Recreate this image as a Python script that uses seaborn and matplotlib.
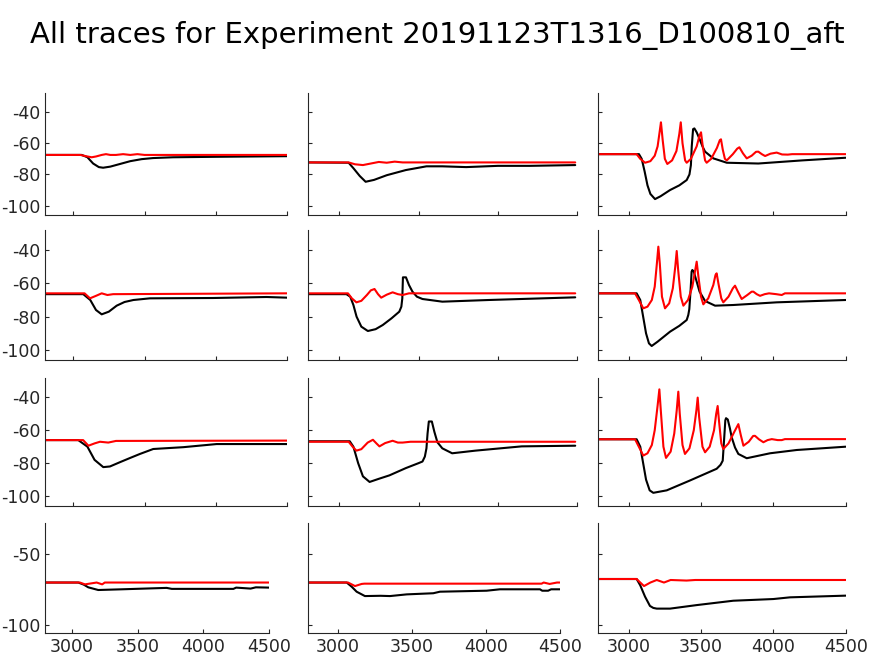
import matplotlib
matplotlib.use("Agg")
import matplotlib.pyplot as plt
import seaborn as sns
import pandas as pd

# ---------------------------
# DATA (time, membrane potential)
# ---------------------------
title_text = "All traces for Experiment 20191123T1316_D100810_aft"

# row 1
p11_black = [(2805, -67.5), (3060, -67.5), (3100, -69), (3140, -73), (3180, -75.3), (3210, -75.7),
             (3260, -75), (3320, -73.5), (3400, -71.5), (3480, -70.2), (3560, -69.5), (3700, -69),
             (4000, -68.7), (4500, -68.3)]
p11_red = [(2805, -67.5), (3050, -67.5), (3100, -68.5), (3130, -69), (3160, -68.5), (3200, -67.5),
           (3230, -67), (3260, -67.5), (3300, -67.5), (3350, -67), (3400, -67.5), (3450, -67),
           (3500, -67.5), (4500, -67.5)]
p12_black = [(2805, -72.3), (3060, -72.5), (3090, -76), (3130, -81), (3167, -84.7), (3220, -83.5),
             (3300, -80.5), (3420, -77.2), (3550, -74.8), (3650, -74.8), (3800, -75.3), (4000, -74.5),
             (4200, -74.5), (4487, -74)]
p12_red = [(2805, -72.3), (3060, -72.3), (3100, -73.5), (3150, -74), (3200, -73), (3250, -72),
           (3300, -72.5), (3350, -71.8), (3400, -72.3), (4487, -72.3)]
p13_black = [(2790, -67), (3071, -67), (3090, -70), (3110, -78), (3130, -87), (3150, -92.5),
             (3182, -95.8), (3220, -94), (3286, -90), (3350, -87), (3401, -83.6), (3420, -80),
             (3430, -74), (3436, -62), (3445, -51), (3454, -50.5), (3470, -53), (3493, -58),
             (3510, -62), (3528, -65.4), (3585, -69.7), (3678, -72.5), (3896, -73), (4200, -71),
             (4500, -69.3)]
p13_red = [(2790, -67), (3055, -67), (3080, -70), (3113, -72.5), (3150, -71.5), (3180, -68),
           (3200, -62), (3215, -52), (3223, -46.6), (3235, -58), (3250, -70), (3267, -73.3),
           (3300, -71), (3330, -65), (3350, -54), (3360, -46.6), (3372, -60), (3390, -71),
           (3401, -72.5), (3430, -70), (3470, -62), (3490, -55), (3500, -53), (3512, -62),
           (3528, -71), (3539, -72.5), (3570, -70), (3610, -63), (3630, -58), (3638, -57.5),
           (3650, -64), (3665, -70), (3678, -71), (3720, -67), (3750, -63.5), (3765, -62.6),
           (3790, -66.5), (3816, -69.7), (3850, -68), (3880, -65.5), (3896, -65.4), (3920, -67),
           (3943, -68.2), (3980, -66.7), (4023, -66), (4060, -67.2), (4100, -67.3), (4130, -67),
           (4500, -67)]

# row 2
p21_black = [(2805, -66.5), (3071, -66.5), (3120, -70), (3160, -76), (3200, -78.6), (3250, -77),
             (3305, -73.4), (3360, -71.2), (3422, -70), (3538, -69), (3980, -68.8), (4355, -68.2),
             (4500, -68.6)]
p21_red = [(2805, -66), (3080, -66), (3118, -69), (3160, -67.5), (3200, -66), (3240, -67),
           (3280, -66.5), (4500, -66)]
p22_black = [(2806, -66.5), (3046, -66.5), (3070, -68), (3090, -73), (3110, -80), (3140, -86),
             (3181, -88.6), (3230, -87.5), (3275, -85), (3330, -81), (3379, -77), (3392, -74),
             (3398, -69), (3402, -56.4), (3421, -56.4), (3440, -61), (3462, -65), (3490, -68),
             (3525, -69.4), (3650, -71), (3942, -70), (4487, -68.4)]
p22_red = [(2806, -66), (3056, -66), (3080, -69), (3109, -71.4), (3140, -70.5), (3175, -67),
           (3200, -64.2), (3223, -63.4), (3245, -66.5), (3265, -68.6), (3300, -66.8), (3337, -65.4),
           (3370, -66.5), (3400, -67), (3440, -66), (4487, -66)]
p23_black = [(2790, -66), (3055, -66), (3080, -70), (3100, -80), (3120, -90), (3140, -96),
             (3159, -97.6), (3200, -95), (3286, -89), (3350, -85.5), (3401, -82), (3412, -79),
             (3419, -75.5), (3428, -64), (3435, -53), (3440, -52), (3450, -53), (3470, -59),
             (3490, -65), (3528, -70.6), (3597, -73.4), (3723, -73), (4023, -71.4), (4500, -70)]
p23_red = [(2790, -66), (3044, -66), (3070, -70), (3101, -75), (3130, -74), (3160, -70),
           (3180, -62), (3195, -48), (3205, -38), (3215, -48), (3230, -68), (3251, -75),
           (3280, -72), (3305, -63), (3322, -50), (3332, -40.6), (3342, -52), (3360, -68),
           (3378, -73.4), (3410, -70), (3440, -62), (3460, -52), (3470, -47), (3482, -56),
           (3500, -68), (3516, -72.6), (3550, -69), (3585, -61), (3600, -55), (3608, -54),
           (3620, -60), (3640, -69), (3654, -71.4), (3690, -68), (3720, -63), (3735, -61.4),
           (3755, -65), (3781, -69.4), (3820, -67), (3850, -65), (3862, -65), (3885, -66.5),
           (3908, -67.5), (3940, -66.5), (3970, -66), (4020, -66.5), (4058, -67), (4080, -66),
           (4500, -66)]

# row 3
p31_black = [(2805, -66), (3036, -66), (3100, -70), (3150, -78), (3211, -82.4), (3258, -82),
             (3328, -79.4), (3400, -76.8), (3468, -74.4), (3561, -71.4), (3771, -70.3),
             (4005, -68.4), (4500, -68.4)]
p31_red = [(2805, -66), (3070, -66), (3107, -69.4), (3150, -68), (3188, -67), (3246, -67.5),
           (3300, -66.5), (4500, -66.3)]
p32_black = [(2806, -66.7), (3067, -66.7), (3090, -70), (3120, -80), (3150, -88), (3192, -91.4),
             (3250, -89.5), (3317, -87.4), (3420, -83), (3500, -80), (3525, -79), (3540, -76),
             (3550, -71), (3557, -62), (3565, -54.7), (3584, -54.7), (3600, -61), (3619, -67.3),
             (3650, -71), (3712, -74), (3858, -72.4), (4150, -69.8), (4487, -69.4)]
p32_red = [(2806, -67), (3060, -67), (3085, -70), (3109, -72.4), (3140, -71.5), (3180, -67.5),
           (3213, -65.8), (3235, -68), (3254, -69.8), (3290, -67.8), (3337, -66.4), (3370, -67.5),
           (3400, -67.5), (3450, -67), (4487, -67)]
p33_black = [(2790, -65.5), (3055, -65.5), (3080, -70), (3100, -80), (3120, -90), (3145, -96.5),
             (3170, -98), (3263, -96.5), (3424, -90.5), (3608, -83.4), (3635, -81), (3650, -78.5),
             (3660, -65), (3668, -54), (3673, -52.7), (3685, -53.5), (3700, -59), (3712, -64.3),
             (3735, -70.5), (3758, -74.4), (3816, -77), (3977, -74), (4162, -72), (4500, -70)]
p33_red = [(2790, -65.5), (3044, -65.5), (3070, -70), (3101, -75.4), (3130, -74), (3160, -69),
           (3180, -60), (3200, -45), (3212, -35.2), (3222, -48), (3240, -70), (3258, -76.8),
           (3290, -73), (3315, -62), (3332, -48), (3343, -36.6), (3353, -50), (3372, -69),
           (3389, -74.4), (3420, -71), (3450, -60), (3468, -48), (3477, -40.2), (3487, -52),
           (3510, -70), (3528, -73.4), (3560, -70), (3590, -60), (3605, -50), (3615, -45.3),
           (3625, -55), (3640, -68), (3654, -71.4), (3690, -68), (3730, -61), (3758, -56.3),
           (3775, -63), (3793, -69.4), (3830, -67), (3860, -63.5), (3873, -63.4), (3900, -65.5),
           (3931, -67.3), (3960, -66), (3989, -65.4), (4030, -66), (4058, -66), (4080, -65.4),
           (4500, -65.4)]

# row 4
p41_black = [(2797, -70), (3048, -70), (3090, -71.5), (3124, -73.4), (3200, -75.3), (3380, -74.8),
             (3721, -73.8), (3760, -74.5), (4229, -74.5), (4250, -73.6), (4360, -74.3), (4400, -73.4),
             (4500, -73.6)]
p41_red = [(2797, -70), (3060, -70), (3099, -71.3), (3188, -70), (3230, -71.3), (3250, -70),
           (4500, -70)]
p42_black = [(2802, -70), (3061, -70), (3095, -73), (3128, -76.5), (3184, -79.6), (3290, -79.4),
             (3353, -79.6), (3466, -78.4), (3645, -77.6), (3690, -76.5), (4005, -75.8), (4095, -74.8),
             (4365, -74.8), (4380, -75.8), (4420, -75.8), (4440, -74.8), (4500, -74.8)]
p42_red = [(2802, -70), (3070, -70), (3117, -72.5), (3162, -71), (3180, -70.8), (4376, -70.8),
           (4390, -70), (4430, -71), (4480, -70), (4500, -70)]
p43_black = [(2790, -67.5), (3055, -67.5), (3080, -72), (3113, -80), (3147, -86.6), (3170, -88),
             (3194, -88.5), (3286, -88.5), (3470, -86), (3723, -82.9), (4000, -81.7), (4115, -80.5),
             (4500, -79.3)]
p43_red = [(2790, -67.5), (3055, -67.5), (3080, -70), (3106, -72.5), (3150, -70), (3194, -68.2),
           (3244, -70), (3290, -68.2), (3400, -68.6), (3460, -68.2), (4500, -68.2)]

traces = [
    [(p11_black, p11_red), (p12_black, p12_red), (p13_black, p13_red)],
    [(p21_black, p21_red), (p22_black, p22_red), (p23_black, p23_red)],
    [(p31_black, p31_red), (p32_black, p32_red), (p33_black, p33_red)],
    [(p41_black, p41_red), (p42_black, p42_red), (p43_black, p43_red)],
]

x_ticks = [3000, 3500, 4000, 4500]
y_ticks_top = [-40, -60, -80, -100]
y_ticks_bottom = [-50, -100]
y_range = (-106, -28)

# x limits per panel (the panels are not shared)
x_ranges = [
    [(2805, 4500), (2806, 4487), (2790, 4500)],
    [(2805, 4500), (2806, 4487), (2790, 4500)],
    [(2805, 4500), (2806, 4487), (2790, 4500)],
    [(2797, 4500), (2802, 4500), (2790, 4500)],
]

# ---------------------------
# LAYOUT (pixel boxes of each panel)
# ---------------------------
W, H = 874, 656
row_px = [(93.3, 215), (230, 360), (377.5, 506), (523.3, 633.3)]
col_px = [[(45.3, 287.3), (308.3, 577.3), (598.3, 845.7)]] * 3 + \
         [[(45.3, 269), (308.3, 560), (598.3, 845.7)]]

sns.set_style("ticks")
text_col = "#262626"
plt.rcParams.update({
    "font.family": ["DejaVu Sans"],
    "axes.unicode_minus": False,
    "xtick.direction": "in",
    "ytick.direction": "in",
    "axes.edgecolor": text_col,
    "xtick.color": text_col,
    "ytick.color": text_col,
})

fig = plt.figure(figsize=(W / 100, H / 100), dpi=100)
fig.text(0.5, 1 - 35 / H, title_text, ha="center", va="center", fontsize=21, color="black")

for r in range(4):
    top, bot = row_px[r]
    for c in range(3):
        left, right = col_px[r][c]
        ax = fig.add_axes([left / W, 1 - bot / H, (right - left) / W, (bot - top) / H])
        black, red = traces[r][c]
        dfb = pd.DataFrame(black, columns=["t", "v"])
        dfr = pd.DataFrame(red, columns=["t", "v"])
        sns.lineplot(data=dfb, x="t", y="v", color="black", lw=1.5, sort=False, estimator=None, ax=ax)
        sns.lineplot(data=dfr, x="t", y="v", color="#ff0000", lw=1.5, sort=False, estimator=None, ax=ax)
        ax.set_xlim(*x_ranges[r][c])
        ax.set_ylim(*y_range)
        ax.set_xticks(x_ticks)
        ax.set_yticks(y_ticks_bottom if r == 3 else y_ticks_top)
        ax.set_xlabel("")
        ax.set_ylabel("")
        ax.tick_params(length=3, width=0.8, labelsize=12.5, labelcolor=text_col)
        if r < 3:
            ax.set_xticklabels([])
        if c > 0:
            ax.set_yticklabels([])
        sns.despine(ax=ax)
        for s in ["left", "bottom"]:
            ax.spines[s].set_linewidth(0.8)

fig.savefig("out.png", dpi=100)
